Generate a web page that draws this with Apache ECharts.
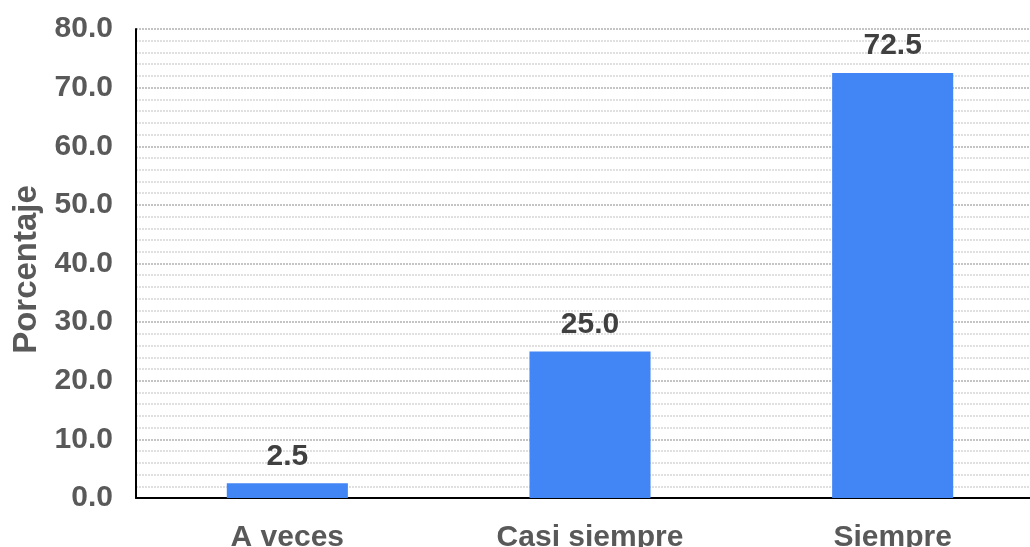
<!DOCTYPE html>
<html>
<head>
<meta charset="utf-8">
<style>
  html, body { margin: 0; padding: 0; background: #ffffff; overflow: hidden; }
  #chart { width: 1030px; height: 547px; }
</style>
<script src="https://cdn.jsdelivr.net/npm/echarts@6/dist/echarts.min.js"></script>
</head>
<body>
<div id="chart"></div>
<script>
// Response categories and their percentage share
const categories = ['A veces', 'Casi siempre', 'Siempre'];
const percentages = [2.5, 25.0, 72.5];
const yAxisTitle = 'Porcentaje';

const chart = echarts.init(document.getElementById('chart'));
const font = '"Liberation Sans", Arial, sans-serif';

chart.setOption({
  animation: false,
  // plot area runs slightly past the right edge of the canvas
  grid: {
    left: 136, top: 29, width: 908, height: 469,
    containLabel: false, outerBoundsMode: 'none'
  },
  xAxis: {
    type: 'category',
    data: categories,
    axisLine: { lineStyle: { color: '#000000', width: 2 } },
    axisTick: { show: false },
    axisLabel: {
      color: '#595959', fontFamily: font, fontWeight: 'bold', fontSize: 30,
      margin: 25
    }
  },
  yAxis: {
    type: 'value',
    min: 0, max: 80, interval: 10,
    name: yAxisTitle,
    nameLocation: 'middle',
    nameGap: 92,
    nameRotate: 90,
    nameTextStyle: {
      color: '#595959', fontFamily: font, fontWeight: 'bold', fontSize: 33,
      padding: [0, 12, 0, 0]
    },
    axisLine: { show: true, lineStyle: { color: '#000000', width: 2 } },
    axisTick: { show: false },
    axisLabel: {
      color: '#595959', fontFamily: font, fontWeight: 'bold', fontSize: 30,
      margin: 23,
      formatter: v => v.toFixed(1)
    },
    splitLine: { show: true, lineStyle: { color: '#c4c4c4', width: 2, type: [2, 1] } },
    minorTick: { show: false, splitNumber: 5 },
    minorSplitLine: { show: true, lineStyle: { color: '#e0e0e0', width: 2, type: [2, 1] } }
  },
  series: [{
    type: 'bar',
    data: percentages,
    barWidth: '40%',
    itemStyle: { color: '#4285f4' },
    label: {
      show: true, position: 'top', distance: 12,
      color: '#404040', fontFamily: font, fontWeight: 'bold', fontSize: 30,
      formatter: p => p.value.toFixed(1)
    }
  }]
});
</script>
</body>
</html>
